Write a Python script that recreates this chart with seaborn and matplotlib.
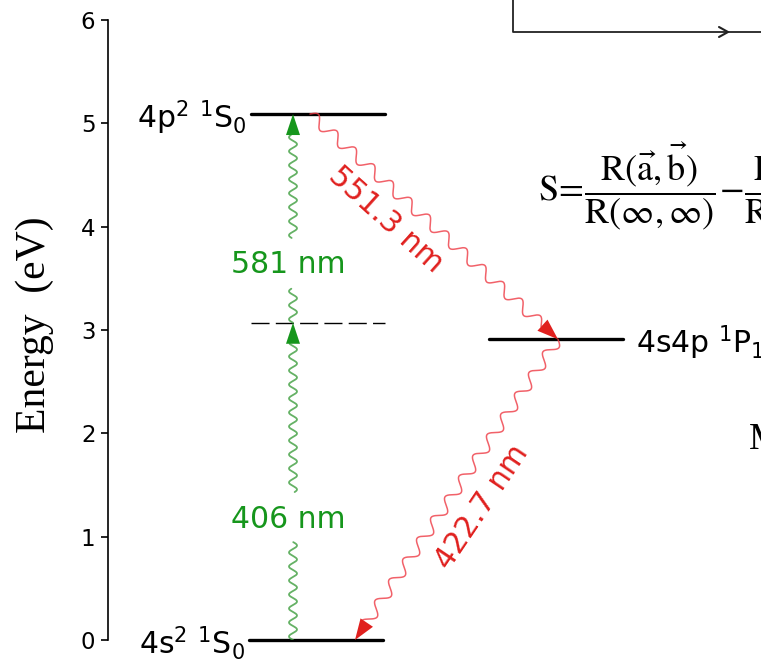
import numpy as np
import pandas as pd
import matplotlib
matplotlib.use("Agg")
import matplotlib.pyplot as plt
import seaborn as sns
from matplotlib.patches import Polygon
from matplotlib.lines import Line2D

# ---------------- data ----------------
level_names = [r"4s$^2$ $^1$S$_0$", r"4p$^2$ $^1$S$_0$", r"4s4p $^1$P$_1$"]
level_energies = [0.0, 5.09, 2.91]          # eV
virtual_energy = 3.07                        # eV (dashed intermediate level)

excitation_labels = ["406 nm", "581 nm"]
excitation_from = [0.0, 3.07]
excitation_to = [3.07, 5.09]
excitation_label_energy = [1.17, 3.63]
excitation_gaps = [(0.95, 1.43), (3.40, 3.89)]

decay_labels = ["551.3 nm", "422.7 nm"]
decay_from = [5.09, 2.91]
decay_to = [2.91, 0.0]

ytick_values = [0, 1, 2, 3, 4, 5, 6]
ylabel_text = "Energy  (eV)"

# ---------------- layout (x positions, arbitrary units) ----------------
level_x = [(1.41, 2.75), (1.43, 2.77), (3.81, 5.15)]
level_label_side = ["left", "left", "right"]
virtual_x = (1.43, 2.77)
excitation_x = 1.85
decay_x_from = [2.02, 4.50]
decay_x_to = [4.50, 2.47]
decay_label_pos = [(2.78, 4.07), (3.74, 1.29)]
decay_label_rot = [-42, 56]

GREEN = "#16961c"
GREEN_WAVE = "#3e9e3e"
RED = "#e0201e"
RED_WAVE = "#ee3a44"

sns.set_theme(style="ticks")
plt.rcParams["font.family"] = ["DejaVu Sans"]
plt.rcParams["mathtext.fontset"] = "dejavusans"
plt.rcParams["text.color"] = "black"
plt.rcParams["axes.labelcolor"] = "black"
plt.rcParams["xtick.color"] = "black"
plt.rcParams["ytick.color"] = "black"

W, H = 761, 666
fig = plt.figure(figsize=(W / 100, H / 100), dpi=100)
ax = fig.add_axes([108 / W, 26 / H, (W - 108) / W, 620 / H])
ax.set_xlim(0, 6.53)
ax.set_ylim(0, 6)

# levels
rows = []
for name, e, (x0, x1) in zip(level_names, level_energies, level_x):
    rows.append({"level": name, "x": x0, "E": e})
    rows.append({"level": name, "x": x1, "E": e})
df_levels = pd.DataFrame(rows)
for name, sub in df_levels.groupby("level", sort=False):
    sns.lineplot(data=sub, x="x", y="E", ax=ax, color="black", lw=2.4,
                 estimator=None, sort=False, clip_on=False)

ax.plot(virtual_x, [virtual_energy, virtual_energy], color="black", lw=1.0,
        dashes=(13, 4.5), clip_on=False)

for name, e, (x0, x1), side in zip(level_names, level_energies, level_x, level_label_side):
    if side == "left":
        ax.annotate(name, xy=(x0, e), xytext=(-3, -10.5), textcoords="offset points",
                    ha="right", va="baseline", fontsize=21.5, annotation_clip=False)
    else:
        ax.annotate(name, xy=(x1, e), xytext=(9, -10.5), textcoords="offset points",
                    ha="left", va="baseline", fontsize=21.5, annotation_clip=False)

# helpers for wavy arrows in pixel space
def to_px(pts):
    return ax.transData.transform(np.asarray(pts, dtype=float))

def to_data(pts):
    return ax.transData.inverted().transform(np.asarray(pts, dtype=float))

def wavy_arrow(p_from, p_to, amp, lam, head_len, head_w, wave_color, head_color,
               lw, alpha, gaps_frac=()):
    a, b = to_px([p_from, p_to])
    d = b - a
    L = np.hypot(*d)
    u = d / L
    n = np.array([-u[1], u[0]])
    s = np.linspace(0, L - head_len, 900)
    off = amp * np.sin(2 * np.pi * s / lam)
    pts = a[None, :] + s[:, None] * u[None, :] + off[:, None] * n[None, :]
    frac = s / L
    mask = np.ones_like(s, dtype=bool)
    for g0, g1 in gaps_frac:
        mask &= ~((frac > g0) & (frac < g1))
    idx = np.where(mask)[0]
    if len(idx):
        splits = np.where(np.diff(idx) > 1)[0] + 1
        for seg in np.split(idx, splits):
            dpts = to_data(pts[seg])
            sns.lineplot(x=dpts[:, 0], y=dpts[:, 1], ax=ax, color=wave_color, lw=lw,
                         alpha=alpha, estimator=None, sort=False)
    base = b - u * head_len
    tri = np.array([b, base + n * head_w / 2, base - n * head_w / 2])
    ax.add_patch(Polygon(to_data(tri), closed=True, color=head_color, lw=0,
                         clip_on=False, zorder=4))

# excitation (green)
for lab, e0, e1, le, (g0, g1) in zip(excitation_labels, excitation_from, excitation_to,
                                     excitation_label_energy, excitation_gaps):
    gf = ((g0 - e0) / (e1 - e0), (g1 - e0) / (e1 - e0))
    wavy_arrow((excitation_x, e0), (excitation_x, e1), amp=4.0, lam=14,
               head_len=21, head_w=14, wave_color=GREEN_WAVE, head_color=GREEN,
               lw=1.3, alpha=0.8, gaps_frac=[gf])
    ax.text(excitation_x - 0.05, le, lab, color=GREEN, fontsize=21.5,
            ha="center", va="center")

# decay (red)
for lab, e0, e1, x0, x1, lp, rot in zip(decay_labels, decay_from, decay_to,
                                        decay_x_from, decay_x_to, decay_label_pos,
                                        decay_label_rot):
    wavy_arrow((x0, e0), (x1, e1), amp=5.5, lam=25, head_len=21, head_w=15,
               wave_color=RED_WAVE, head_color=RED, lw=1.1, alpha=0.8)
    ax.text(lp[0], lp[1], lab, color=RED, fontsize=21.5, rotation=rot,
            rotation_mode="anchor", ha="center", va="center")

# axes styling
ax.set_yticks(ytick_values)
ax.set_yticklabels([str(v) for v in ytick_values])
ax.set_xticks([])
ax.set_xlabel("")
ax.tick_params(axis="y", length=5, width=1.2, labelsize=16.5, pad=4, direction="out")
sns.despine(ax=ax, top=True, right=True, bottom=True, left=False)
ax.spines["left"].set_linewidth(1.2)
ax.spines["left"].set_color("black")
ax.set_ylabel(ylabel_text, fontsize=30, family=["Liberation Serif", "DejaVu Serif"],
              va="center")
ax.yaxis.set_label_coords(-0.112, 0.508)
ax.patch.set_alpha(0)

# neighbouring-figure fragments visible in the crop
def px_line(xs, ys, **kw):
    fig.add_artist(Line2D([x / 100 for x in xs], [(H - y) / 100 for y in ys],
                          transform=fig.dpi_scale_trans, **kw))

px_line([513, 513, 761], [0, 32, 32], color="#222222", lw=1.3)
px_line([719, 728, 719], [27, 32, 37], color="#222222", lw=1.5)

fig.text(538 / W, 1 - 186 / H,
         r"$\mathrm{S}\!=\!\dfrac{\mathrm{R}(\vec{\mathrm{a}},\vec{\mathrm{b}})}"
         r"{\mathrm{R}(\infty,\infty)}\!-\!\dfrac{\mathrm{R}(\vec{\mathrm{a}},0)}"
         r"{\mathrm{R}(\infty,0)}$",
         fontsize=26, math_fontfamily="stix", ha="left", va="center")
fig.text(749 / W, 1 - 440 / H, "M", fontsize=27,
         family=["Liberation Serif", "DejaVu Serif"], ha="left", va="center")

fig.savefig("out.png", dpi=100)
